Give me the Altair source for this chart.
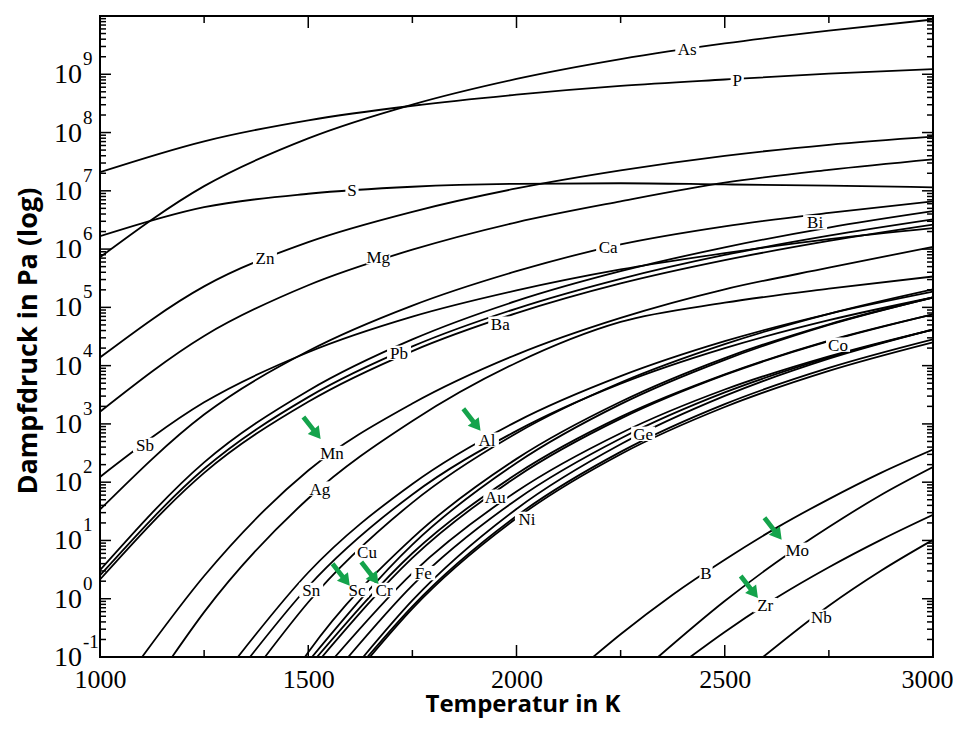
import math
import altair as alt
import pandas as pd

# ---------------- data: log10(p / Pa) ----------------
T_GRID = [1000, 1250, 1500, 1750, 2000, 2250, 2500, 2750, 3000]

AS_L = [5.86, 7.08, 7.90, 8.48, 8.92, 9.26, 9.53, 9.75, 9.94]
P_L = [7.32, 7.85, 8.21, 8.46, 8.65, 8.80, 8.91, 9.01, 9.09]
S_L = [6.22, 6.72, 6.95, 7.07, 7.12, 7.13, 7.11, 7.09, 7.06]
ZN_L = [4.14, 5.36, 6.12, 6.64, 7.04, 7.35, 7.60, 7.79, 7.93]
MG_L = [3.21, 4.51, 5.38, 5.99, 6.46, 6.82, 7.14, 7.36, 7.54]
CA_L = [1.53, 3.16, 4.25, 5.03, 5.62, 6.08, 6.39, 6.62, 6.82]
SB_L = [2.09, 3.37, 4.23, 4.84, 5.29, 5.65, 5.93, 6.17, 6.36]
BI_L = [0.49, 2.34, 3.57, 4.45, 5.11, 5.62, 6.03, 6.37, 6.65]
PB_L = [0.40, 2.23, 3.46, 4.33, 4.98, 5.49, 5.90, 6.23, 6.51]
BA_L = [0.33, 2.16, 3.38, 4.25, 4.90, 5.41, 5.81, 6.14, 6.42]

MN_T = [1101, 1250, 1500, 1750, 2000, 2250, 2500, 2750, 3000]
MN_L = [-1.0, 0.39, 2.20, 3.35, 4.19, 4.82, 5.31, 5.68, 6.04]
AG_T = [1173, 1250, 1500, 1750, 2000, 2250, 2500, 2750, 3000]
AG_L = [-1.0, -0.23, 1.72, 3.05, 4.05, 4.75, 5.08, 5.32, 5.53]

AL_T = [1331, 1500, 1750, 2000, 2250, 2500, 2750, 3000]
AL_L = [-1.0, 0.45, 1.97, 3.04, 3.82, 4.42, 4.89, 5.27]
SN_T = [1360, 1500, 1750, 2000, 2250, 2500, 2750, 3000]
SN_L = [-1.0, 0.21, 1.79, 2.88, 3.69, 4.30, 4.78, 5.17]
CU_T = [1396, 1500, 1750, 2000, 2250, 2500, 2750, 3000]
CU_L = [-1.0, -0.06, 1.65, 2.84, 3.71, 4.37, 4.89, 5.31]
SC_T = [1492, 1500, 1750, 2000, 2250, 2500, 2750, 3000]
SC_L = [-1.0, -0.92, 1.04, 2.40, 3.38, 4.13, 4.71, 5.17]
X1_T = [1509, 1750, 2000, 2250, 2500, 2750, 3000]
X1_L = [-1.0, 0.93, 2.33, 3.34, 4.10, 4.70, 5.17]
AU_T = [1521, 1750, 2000, 2250, 2500, 2750, 3000]
AU_L = [-1.0, 0.78, 2.14, 3.12, 3.85, 4.43, 4.88]
CR_T = [1533, 1750, 2000, 2250, 2500, 2750, 3000]
CR_L = [-1.0, 0.70, 2.09, 3.09, 3.84, 4.42, 4.88]
X2_T = [1564, 1750, 2000, 2250, 2500, 2750, 3000]
X2_L = [-1.0, 0.44, 1.84, 2.84, 3.59, 4.16, 4.62]
FE_T = [1596, 1750, 2000, 2250, 2500, 2750, 3000]
FE_L = [-1.0, 0.23, 1.70, 2.75, 3.54, 4.14, 4.62]
GE_T = [1632, 1750, 2000, 2250, 2500, 2750, 3000]
GE_L = [-1.0, -0.03, 1.54, 2.65, 3.48, 4.12, 4.62]
X3_T = [1642, 1750, 2000, 2250, 2500, 2750, 3000]
X3_L = [-1.0, -0.13, 1.42, 2.52, 3.34, 3.96, 4.45]
NI_T = [1648, 1750, 2000, 2250, 2500, 2750, 3000]
NI_L = [-1.0, -0.17, 1.38, 2.48, 3.29, 3.91, 4.40]

B_T = [2184, 2250, 2375, 2500, 2625, 2750, 2875, 3000]
B_L = [-1.0, -0.61, 0.07, 0.67, 1.22, 1.71, 2.16, 2.56]
MO_T = [2340, 2500, 2625, 2750, 2875, 3000]
MO_L = [-1.0, -0.04, 0.63, 1.23, 1.78, 2.26]
ZR_T = [2417, 2500, 2625, 2750, 2875, 3000]
ZR_L = [-1.0, -0.57, 0.02, 0.54, 1.01, 1.44]
NB_T = [2592, 2750, 2875, 3000]
NB_L = [-1.0, -0.12, 0.48, 1.01]

LABEL_TEXT = ["As", "P", "S", "Zn", "Mg", "Ca", "Bi", "Ba", "Pb", "Co", "Sb", "Mn", "Al",
              "Ge", "Ag", "Au", "Ni", "Cu", "Fe", "Sn", "Sc", "Cr", "B", "Mo", "Zr", "Nb"]
LABEL_T = [2410, 2530, 1605, 1396, 1668, 2220, 2717, 1961, 1718, 2772, 1108, 1557, 1929,
           2304, 1528, 1949, 2025, 1641, 1776, 1507, 1617, 1682, 2455, 2674, 2597, 2732]
LABEL_L = [9.43, 8.91, 7.02, 5.84, 5.86, 6.03, 6.46, 4.72, 4.22, 4.36, 2.64, 2.50, 2.73,
           2.83, 1.89, 1.75, 1.37, 0.80, 0.44, 0.15, 0.15, 0.15, 0.44, 0.84, -0.11, -0.31]

ARROW_T = [1509, 1893, 1579, 1648, 2616, 2559]
ARROW_L = [2.93, 3.07, 0.41, 0.44, 1.20, 0.20]

EXPONENTS = [-1, 0, 1, 2, 3, 4, 5, 6, 7, 8, 9]
X_LABELS = [1000, 1500, 2000, 2500, 3000]
X_MINOR = [1250, 1750, 2250, 2750]

curves = [
    ("As", T_GRID, AS_L), ("P", T_GRID, P_L), ("S", T_GRID, S_L), ("Zn", T_GRID, ZN_L),
    ("Mg", T_GRID, MG_L), ("Ca", T_GRID, CA_L), ("Sb", T_GRID, SB_L), ("Bi", T_GRID, BI_L),
    ("Pb", T_GRID, PB_L), ("Ba", T_GRID, BA_L), ("Mn", MN_T, MN_L), ("Ag", AG_T, AG_L),
    ("Al", AL_T, AL_L), ("Sn", SN_T, SN_L), ("Cu", CU_T, CU_L), ("Sc", SC_T, SC_L),
    ("X1", X1_T, X1_L), ("Au", AU_T, AU_L), ("Cr", CR_T, CR_L), ("X2", X2_T, X2_L),
    ("Fe", FE_T, FE_L), ("Ge", GE_T, GE_L), ("X3", X3_T, X3_L), ("Ni", NI_T, NI_L),
    ("B", B_T, B_L), ("Mo", MO_T, MO_L), ("Zr", ZR_T, ZR_L), ("Nb", NB_T, NB_L),
]
rows = []
for name, ts, ls in curves:
    for t, l in zip(ts, ls):
        rows.append({"el": name, "T": t, "L": l})
curve_df = pd.DataFrame(rows)

lab_df = pd.DataFrame({"name": LABEL_TEXT, "T": LABEL_T, "L": LABEL_L})
arrow_df = pd.DataFrame({"T": ARROW_T, "L": ARROW_L})
exp_df = pd.DataFrame({"L": EXPONENTS, "base": ["10"] * len(EXPONENTS),
                       "exp": [str(e) for e in EXPONENTS]})

# axis decoration (tick positions)
major_y = pd.DataFrame({"L": list(range(-1, 11))})
minor_y = pd.DataFrame({"L": [n + math.log10(k) for n in range(-1, 10) for k in range(2, 10)]})
major_x = pd.DataFrame({"T": X_LABELS})
minor_x = pd.DataFrame({"T": X_MINOR})

W, H = 833, 641
xs = alt.Scale(domain=[1000, 3000], nice=False, zero=False)
ys = alt.Scale(domain=[-1, 10], nice=False, zero=False)
x_axis = alt.Axis(values=X_LABELS, format="d", labelFont="Liberation Serif", labelFontSize=26,
                  labelColor="black", labelPadding=9, labelFlush=False, tickSize=0,
                  labelOffset={"condition": {"test": "datum.value == 3000", "value": -6},
                               "value": 0},
                  domain=False, grid=False,
                  title="Temperatur in K", titleFont="Open Sans", titleFontWeight="bold",
                  titleFontSize=24, titleColor="black", titleX=W / 2 + 6, titleY=54,
                  titleAlign="center", titleBaseline="alphabetic")
y_axis = alt.Axis(labels=False, ticks=False, domain=False, grid=False,
                  title="Dampfdruck in Pa (log)", titleFont="Open Sans", titleFontWeight="bold",
                  titleFontSize=27, titleColor="black", titleX=-72, titleY=H / 2 + 4,
                  titleAngle=270, titleAlign="center", titleBaseline="middle")
X = alt.X("T:Q", scale=xs, axis=x_axis)
Y = alt.Y("L:Q", scale=ys, axis=y_axis)

lines = alt.Chart(curve_df).mark_line(
    color="black", strokeWidth=1.8, clip=True, interpolate="monotone"
).encode(x=X, y=Y, detail="el:N", order=alt.Order("T:Q"))

RECT2 = "M-1,-0.6L1,-0.6L1,0.6L-1,0.6Z"
RECT1 = "M-0.55,-0.6L0.55,-0.6L0.55,0.6L-0.55,0.6Z"
boxes2 = alt.Chart(lab_df).transform_filter("length(datum.name) > 1").mark_point(
    shape=RECT2, size=576, filled=True, fill="white", opacity=1, strokeWidth=0
).encode(x=X, y=Y)
boxes1 = alt.Chart(lab_df).transform_filter("length(datum.name) == 1").mark_point(
    shape=RECT1, size=576, filled=True, fill="white", opacity=1, strokeWidth=0
).encode(x=X, y=Y)
texts = alt.Chart(lab_df).mark_text(
    font="Liberation Serif", fontSize=17, color="black", baseline="middle", dy=1
).encode(x=X, y=Y, text="name:N")

ARROW = "M-1,-0.17L0.15,-0.17L0.15,-0.5L1,0L0.15,0.5L0.15,0.17L-1,0.17Z"
arrows = alt.Chart(arrow_df).mark_point(
    shape=ARROW, size=784, filled=True, fill="#14a34b", angle=52, opacity=1, strokeWidth=0
).encode(x=X, y=Y)

tk = dict(color="black", strokeWidth=1.5)
left_major = alt.Chart(major_y).mark_rule(**tk).encode(y=Y, x=alt.value(0), x2=alt.value(11))
right_major = alt.Chart(major_y).mark_rule(**tk).encode(y=Y, x=alt.value(W - 11), x2=alt.value(W))
left_minor = alt.Chart(minor_y).mark_rule(**tk).encode(y=Y, x=alt.value(0), x2=alt.value(6))
right_minor = alt.Chart(minor_y).mark_rule(**tk).encode(y=Y, x=alt.value(W - 6), x2=alt.value(W))
bot_major = alt.Chart(major_x).mark_rule(**tk).encode(x=X, y=alt.value(H), y2=alt.value(H - 12))
top_major = alt.Chart(major_x).mark_rule(**tk).encode(x=X, y=alt.value(0), y2=alt.value(12))
bot_minor = alt.Chart(minor_x).mark_rule(**tk).encode(x=X, y=alt.value(H), y2=alt.value(H - 7))
top_minor = alt.Chart(minor_x).mark_rule(**tk).encode(x=X, y=alt.value(0), y2=alt.value(7))

ylab_base = alt.Chart(exp_df).mark_text(
    align="right", baseline="middle", font="Liberation Serif", fontSize=28, color="black", dy=1
).encode(x=alt.value(-18), y=Y, text="base:N")
ylab_exp = alt.Chart(exp_df).mark_text(
    align="left", baseline="middle", font="Liberation Serif", fontSize=19, color="black", dy=-15
).encode(x=alt.value(-17), y=Y, text="exp:N")

chart = alt.layer(
    lines, boxes2, boxes1, texts, arrows,
    left_major, right_major, left_minor, right_minor,
    bot_major, top_major, bot_minor, top_minor,
    ylab_base, ylab_exp,
).properties(
    width=W, height=H,
    autosize=alt.AutoSizeParams(type="none"),
    padding={"left": 92, "top": 8, "right": 20, "bottom": 62},
    background="white",
).configure_view(stroke="black", strokeWidth=2)

chart.save("out.html", embed_options={"renderer": "svg", "actions": False})
